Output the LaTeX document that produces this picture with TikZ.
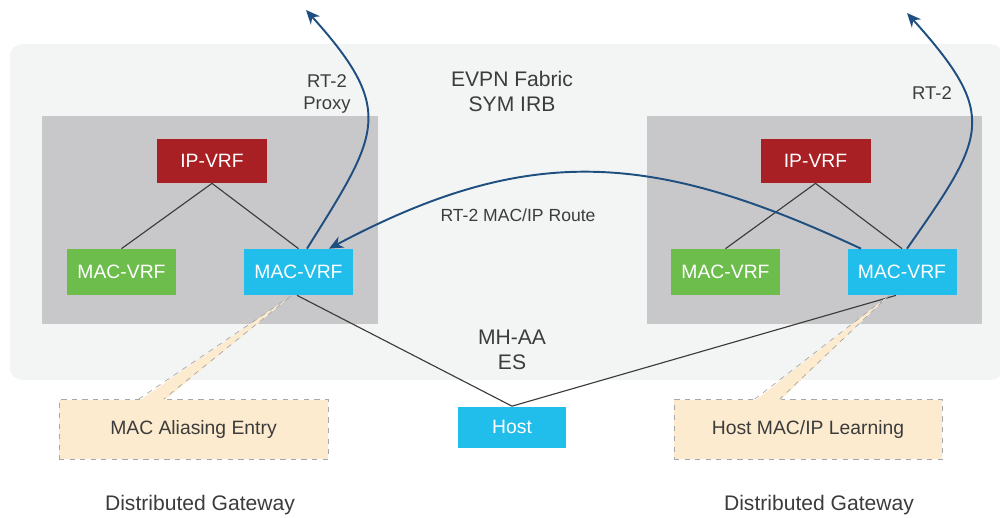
\documentclass[tikz,border=0pt]{standalone}
\usepackage{fontspec}
\setmainfont{Liberation Sans}
\usetikzlibrary{arrows.meta}

\definecolor{fabricgray}{HTML}{F3F5F5}
\definecolor{boxgray}{HTML}{C8C8CA}
\definecolor{ipred}{HTML}{A81F24}
\definecolor{macgreen}{HTML}{6CBD4B}
\definecolor{macblue}{HTML}{21BEEB}
\definecolor{notebeige}{HTML}{FDEBCF}
\definecolor{noteedge}{HTML}{A8A8A8}
\definecolor{routeblue}{HTML}{1F4E80}
\definecolor{textgray}{HTML}{3C3C3C}

\begin{document}
\begin{tikzpicture}[x=0.02cm,y=-0.02cm,
    vrf/.style={text=white,font=\fontsize{11}{13}\selectfont,inner sep=0pt,
      minimum width=2.18cm,minimum height=0.92cm},
    note/.style={draw=noteedge,dashed,fill=notebeige,text=textgray,
      font=\fontsize{11}{13}\selectfont,inner sep=0pt,minimum height=1.2cm},
    lbl/.style={text=textgray,align=center,font=\fontsize{12}{14.2}\selectfont},
    route/.style={routeblue,line width=1.1pt,-{Stealth[length=8pt,width=7pt]}},
    link/.style={textgray,line width=0.65pt}]

	\useasboundingbox (0,0) rectangle (1000,517);

	% fabric and the two gateways
	\fill[fabricgray,rounded corners=0.24cm] (10,44) rectangle (1003,380);
	\fill[boxgray] (42,116) rectangle (378,324);
	\fill[boxgray] (647,116) rectangle (982,324);

	\node[vrf,fill=ipred,minimum width=2.2cm,minimum height=0.88cm] (ipL) at (212,161) {IP-VRF};
	\node[vrf,fill=macgreen] (macgL) at (121.5,272) {MAC-VRF};
	\node[vrf,fill=macblue] (macbL) at (298.5,272) {MAC-VRF};
	\node[vrf,fill=ipred,minimum width=2.2cm,minimum height=0.88cm] (ipR) at (815.5,161) {IP-VRF};
	\node[vrf,fill=macgreen] (macgR) at (725.5,272) {MAC-VRF};
	\node[vrf,fill=macblue] (macbR) at (902,272) {MAC-VRF};
	\node[vrf,fill=macblue,minimum width=2.16cm,minimum height=0.82cm] (host) at (512,427) {Host};

	\draw[link] (ipL.south) -- (macgL.north); \draw[link] (ipL.south) -- (macbL.north);
	\draw[link] (ipR.south) -- (macgR.north); \draw[link] (ipR.south) -- (macbR.north);
	\draw[link] (host.north) -- ([xshift=-0.03cm]macbL.south);
	\draw[link] (host.north) -- ([xshift=-0.12cm]macbR.south);

	% callouts
	\node[note,minimum width=5.38cm] (noteL) at (193.5,429.5) {MAC Aliasing Entry};
	\node[note,minimum width=5.36cm] (noteR) at (808,429.5) {Host MAC/IP Learning};
	\coordinate (tipL) at ([xshift=-0.13cm]macbL.south);
	\coordinate (tipR) at ([xshift=-0.26cm]macbR.south);
	\fill[notebeige] (tipL) -- ([xshift=1.6cm,yshift=-1pt]noteL.north west)
	  -- ([xshift=2.1cm,yshift=-1pt]noteL.north west) -- cycle;
	\draw[noteedge,dashed] ([xshift=1.6cm]noteL.north west) -- (tipL) -- ([xshift=2.1cm]noteL.north west);
	\fill[notebeige] (tipR) -- ([xshift=1.62cm,yshift=-1pt]noteR.north west)
	  -- ([xshift=2.12cm,yshift=-1pt]noteR.north west) -- cycle;
	\draw[noteedge,dashed] ([xshift=1.62cm]noteR.north west) -- (tipR) -- ([xshift=2.12cm]noteR.north west);

	% route advertisements
	\coordinate (upL) at (306,10); \coordinate (upR) at (907,13);
	\draw[route] ([xshift=0.17cm]macbL.north) to[out=58,in=-48,looseness=1.45] (upL);
	\draw[route] ([xshift=0.1cm]macbR.north) to[out=55,in=-48,looseness=1.5] (upR);
	\draw[route] ([xshift=-0.82cm]macbR.north) to[out=155,in=28,looseness=1.1] ([xshift=0.61cm]macbL.north);

	\node[lbl,font=\fontsize{10.5}{12.5}\selectfont] (proxyLbl) at (327,94) {RT-2\\Proxy};
	\node[lbl,font=\fontsize{10.5}{12.5}\selectfont] (rtLbl) at (932,93) {RT-2};
	\node[lbl] (fabricLbl) at (512,91) {EVPN Fabric\\SYM IRB};
	\node[lbl,font=\fontsize{10}{12}\selectfont] (routeLbl) at (518,215) {RT-2 MAC/IP Route};
	\node[lbl] (esLbl) at (512,350) {MH-AA\\ES};
	\node[lbl] (gwL) at (200,505) {Distributed Gateway};
	\node[lbl] (gwR) at (819,505) {Distributed Gateway};
\end{tikzpicture}
\end{document}
